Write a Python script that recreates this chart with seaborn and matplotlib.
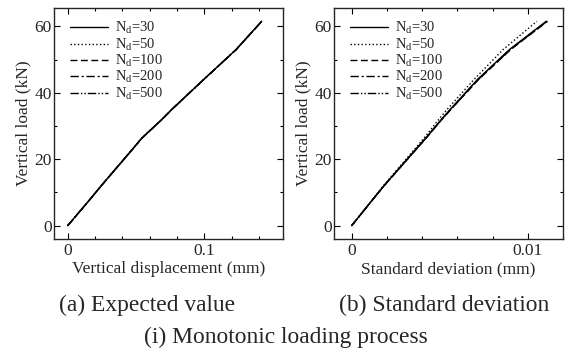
import numpy as np
import pandas as pd
import seaborn as sns
import matplotlib.pyplot as plt
from matplotlib.ticker import MultipleLocator

# load steps (kN) and response for each number of samples N_d
load = [0, 8, 12, 23.3, 26.3, 32, 35, 44, 53, 61.5]
nd_labels = ["30", "50", "100", "200", "500"]

mean_disp = {
    "30":  [0, 0.0165, 0.0245, 0.0480, 0.0541, 0.0690, 0.0762, 0.0995, 0.1232, 0.1419],
    "50":  [0, 0.0164, 0.0244, 0.0479, 0.0540, 0.0689, 0.0761, 0.0994, 0.1231, 0.1418],
    "100": [0, 0.0165, 0.0245, 0.0481, 0.0542, 0.0691, 0.0763, 0.0996, 0.1233, 0.1420],
    "200": [0, 0.0165, 0.0246, 0.0481, 0.0542, 0.0691, 0.0763, 0.0996, 0.1233, 0.1420],
    "500": [0, 0.0165, 0.0245, 0.0480, 0.0541, 0.0690, 0.0762, 0.0995, 0.1232, 0.1419],
}
std_disp = {
    "30":  [0, 0.00122, 0.00183, 0.00370, 0.00420, 0.00510, 0.00560, 0.00715, 0.00896, 0.01105],
    "50":  [0, 0.00120, 0.00180, 0.00362, 0.00410, 0.00495, 0.00542, 0.00695, 0.00860, 0.01052],
    "100": [0, 0.00122, 0.00184, 0.00372, 0.00422, 0.00513, 0.00564, 0.00721, 0.00903, 0.01112],
    "200": [0, 0.00122, 0.00184, 0.00371, 0.00421, 0.00512, 0.00563, 0.00719, 0.00901, 0.01110],
    "500": [0, 0.00122, 0.00183, 0.00370, 0.00420, 0.00511, 0.00561, 0.00717, 0.00899, 0.01108],
}

styles = ["-", ":", (0, (5, 2.5)), (0, (6, 2, 1.5, 2)), (0, (6, 1.5, 1, 1.5, 1, 1.5))]

sns.set_style("ticks")
plt.rcParams["font.family"] = ["Liberation Serif", "DejaVu Serif"]
plt.rcParams["mathtext.fontset"] = "custom"
plt.rcParams["mathtext.rm"] = "Liberation Serif"
plt.rcParams["mathtext.it"] = "Liberation Serif:italic"
plt.rcParams["axes.linewidth"] = 1.0

fig = plt.figure(figsize=(5.71, 3.54), dpi=100)
ax1 = fig.add_axes([54 / 571, 1 - 239 / 354, 229 / 571, 231 / 354])
ax2 = fig.add_axes([334 / 571, 1 - 239 / 354, 229 / 571, 231 / 354])


def draw(ax, data, xlabel, xlim, xticks, xticklabels, xminor):
    for nd, ls in zip(nd_labels, styles):
        df = pd.DataFrame({"x": data[nd], "y": load})
        sns.lineplot(data=df, x="x", y="y", ax=ax, color="black", linewidth=1.0,
                     linestyle=ls, sort=False, estimator=None,
                     label=r"N$_\mathrm{d}$=" + nd)
    ax.set_xlim(*xlim)
    ax.set_ylim(-4, 65.5)
    ax.set_xticks(xticks)
    ax.set_xticklabels(xticklabels)
    ax.set_yticks([0, 20, 40, 60])
    ax.xaxis.set_minor_locator(MultipleLocator(xminor))
    ax.yaxis.set_minor_locator(MultipleLocator(10))
    ax.tick_params(which="both", direction="in", top=True, right=True,
                   labelsize=12.5, color="black")
    ax.tick_params(which="major", length=4, width=0.8)
    ax.tick_params(which="minor", length=2.5, width=0.8)
    ax.tick_params(axis="x", pad=3)
    ax.tick_params(axis="y", pad=1.5)
    ax.set_xlabel(xlabel, fontsize=12.5, labelpad=1.5)
    ax.set_ylabel("Vertical load (kN)", fontsize=12.5, labelpad=2)
    ax.legend(loc="upper left", bbox_to_anchor=(0.03, 0.985), frameon=False,
              fontsize=10.5, handlelength=2.6, handletextpad=0.5,
              labelspacing=0.02, borderaxespad=0.2)


draw(ax1, mean_disp, "Vertical displacement (mm)", (-0.01, 0.1575),
     [0, 0.1], ["0", "0.1"], 0.02)
draw(ax2, std_disp, "Standard deviation (mm)", (-0.001, 0.012),
     [0, 0.01], ["0", "0.01"], 0.002)

fig.text(147.5 / 571, 1 - 311 / 354, "(a) Expected value", fontsize=16.9,
         ha="center", va="baseline")
fig.text(444 / 571, 1 - 311 / 354, "(b) Standard deviation", fontsize=16.9,
         ha="center", va="baseline")
fig.text(285.5 / 571, 1 - 343 / 354, "(i) Monotonic loading process", fontsize=16.9,
         ha="center", va="baseline")

fig.savefig("out.png", dpi=100)
